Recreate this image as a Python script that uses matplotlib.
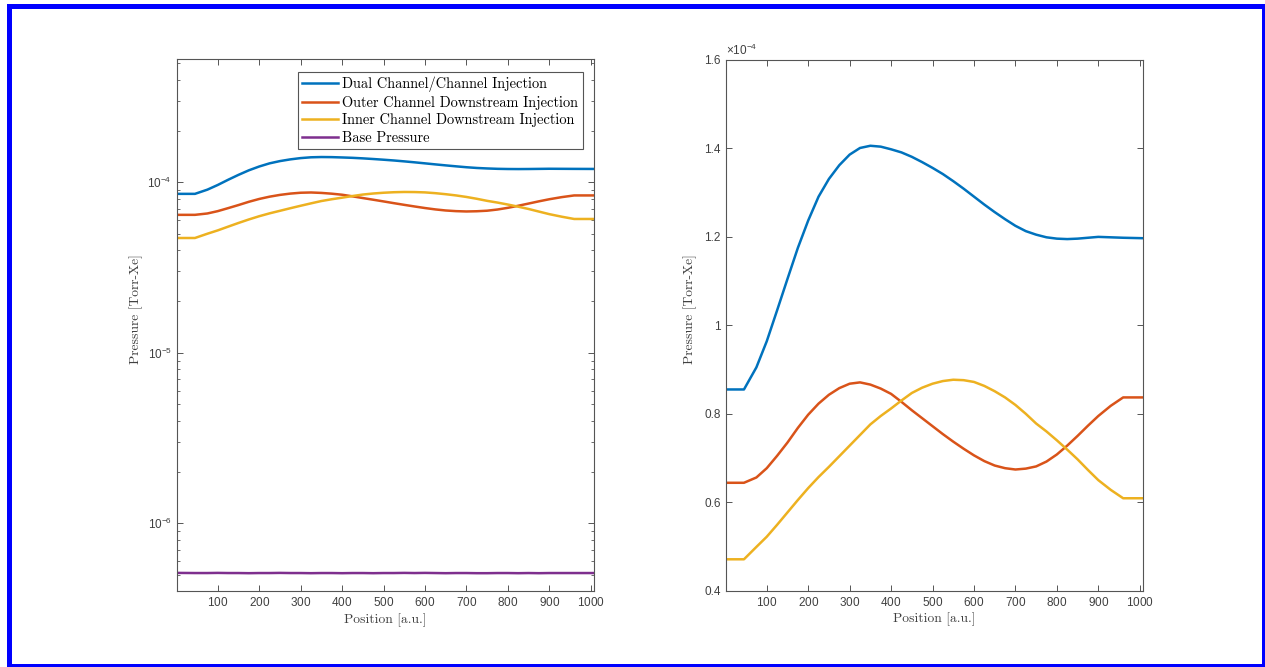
import matplotlib
matplotlib.use('Agg')
import matplotlib.pyplot as plt
from matplotlib.patches import Rectangle
from matplotlib.ticker import LogLocator, FixedLocator, FuncFormatter, NullFormatter
import numpy as np

# Position along the channel [a.u.]
positions = [1, 45, 75, 100, 125, 150, 175, 200, 225, 250, 275, 300, 325, 350, 375,
             400, 425, 450, 475, 500, 525, 550, 575, 600, 625, 650, 675, 700, 725,
             750, 775, 800, 825, 850, 875, 900, 930, 960, 1007]

# Pressure in units of 1e-4 Torr-Xe
dual_channel = [0.855, 0.855, 0.905, 0.964, 1.034, 1.105, 1.175, 1.237, 1.291, 1.331,
                1.362, 1.386, 1.401, 1.406, 1.404, 1.398, 1.391, 1.381, 1.369, 1.356,
                1.342, 1.326, 1.309, 1.291, 1.273, 1.256, 1.240, 1.225, 1.213, 1.205,
                1.199, 1.196, 1.195, 1.196, 1.198, 1.200, 1.199, 1.198, 1.197]
outer_downstream = [0.644, 0.644, 0.656, 0.677, 0.705, 0.735, 0.768, 0.798, 0.823, 0.843,
                    0.858, 0.868, 0.871, 0.866, 0.857, 0.845, 0.827, 0.808, 0.790, 0.772,
                    0.754, 0.737, 0.721, 0.706, 0.693, 0.683, 0.677, 0.674, 0.676, 0.681,
                    0.692, 0.708, 0.728, 0.750, 0.773, 0.795, 0.818, 0.837, 0.837]
inner_downstream = [0.471, 0.471, 0.499, 0.522, 0.549, 0.577, 0.605, 0.632, 0.657, 0.680,
                    0.704, 0.728, 0.752, 0.776, 0.795, 0.812, 0.830, 0.847, 0.859, 0.868,
                    0.874, 0.877, 0.876, 0.872, 0.863, 0.851, 0.837, 0.820, 0.800, 0.778,
                    0.760, 0.740, 0.719, 0.697, 0.673, 0.650, 0.628, 0.609, 0.609]
# Base pressure in units of 1e-7 Torr-Xe
base_pressure = [5.11, 5.10, 5.10, 5.11, 5.10, 5.10, 5.09, 5.10, 5.10, 5.11,
                 5.10, 5.10, 5.09, 5.10, 5.10, 5.09, 5.10, 5.10, 5.09, 5.10,
                 5.10, 5.11, 5.10, 5.11, 5.10, 5.09, 5.10, 5.10, 5.09, 5.09,
                 5.10, 5.10, 5.09, 5.10, 5.09, 5.10, 5.10, 5.10, 5.10]

labels = ['Dual Channel/Channel Injection', 'Outer Channel Downstream Injection',
          'Inner Channel Downstream Injection', 'Base Pressure']
colors = ['#0072BD', '#D95319', '#EDB120', '#7E2F8E']

x = np.array(positions)
series = [np.array(dual_channel) * 1e-4, np.array(outer_downstream) * 1e-4,
          np.array(inner_downstream) * 1e-4, np.array(base_pressure) * 1e-7]

tick_color = '#404040'
serif = 'cmr10'
plt.rcParams['font.family'] = ['Liberation Sans', 'DejaVu Sans']
plt.rcParams['mathtext.fontset'] = 'custom'
plt.rcParams['mathtext.rm'] = 'Liberation Sans'
plt.rcParams['axes.formatter.use_mathtext'] = True

fig = plt.figure(figsize=(12.65, 6.67), dpi=100)
ax1 = fig.add_axes([0.1397, 0.1139, 0.3299, 0.7969])
ax2 = fig.add_axes([0.5737, 0.1144, 0.3299, 0.7957])


def style_axes(ax):
    for sp in ax.spines.values():
        sp.set_color('#555555')
        sp.set_linewidth(0.8)
    ax.tick_params(which='both', direction='in', top=True, right=True,
                   colors='#555555', labelcolor=tick_color, labelsize=8.5)
    ax.tick_params(which='major', length=4.5, width=0.7)
    ax.tick_params(which='minor', length=2.5, width=0.6)
    ax.set_xlim(1, 1008)
    ax.xaxis.set_major_locator(FixedLocator(np.arange(100, 1001, 100)))
    ax.set_xlabel('Position [a.u.]', fontfamily=serif, fontsize=9.7,
                  color=tick_color, labelpad=3)


# Left panel: all pressures on a log scale
for y, lab, col in zip(series, labels, colors):
    ax1.plot(x, y, color=col, linewidth=1.8, label=lab)
ax1.set_yscale('log')
ax1.set_ylim(4.0e-7, 5.25e-4)
ax1.yaxis.set_major_locator(LogLocator(base=10, numticks=10))
ax1.yaxis.set_minor_locator(LogLocator(base=10, subs=np.arange(2, 10), numticks=10))
ax1.yaxis.set_minor_formatter(NullFormatter())
style_axes(ax1)
ax1.set_ylabel('Pressure [Torr-Xe]', fontfamily=serif, fontsize=9.7, color=tick_color)
ax1.yaxis.set_label_coords(-0.08, 0.53)
leg = ax1.legend(loc='upper right', bbox_to_anchor=(0.973, 0.9765), borderaxespad=0,
                 prop={'family': serif, 'size': 10.4}, handlelength=2.5,
                 handletextpad=0.3, labelspacing=0.26, borderpad=0.3,
                 fancybox=False, framealpha=1)
leg.get_frame().set_edgecolor('#555555')
leg.get_frame().set_linewidth(0.8)

# Right panel: the three injection cases on a linear scale
for y, col in zip(series[:3], colors[:3]):
    ax2.plot(x, y, color=col, linewidth=1.8)
ax2.set_ylim(0.4e-4, 1.6e-4)
ax2.yaxis.set_major_locator(FixedLocator(np.arange(0.4, 1.61, 0.2) * 1e-4))
ax2.yaxis.set_major_formatter(FuncFormatter(lambda v, _: f'{v / 1e-4:g}'))
style_axes(ax2)
ax2.text(0.0, 1.003, r'$\times10^{-4}$', transform=ax2.transAxes, ha='left',
         va='bottom', fontsize=8.5, color=tick_color)
ax2.set_ylabel('Pressure [Torr-Xe]', fontfamily=serif, fontsize=9.7, color=tick_color)
ax2.yaxis.set_label_coords(-0.069, 0.53)

# Blue frame around the whole figure
fig.patches.append(Rectangle((8.5 / 1265, 1.5 / 667), (1263.5 - 8.5) / 1265,
                             (661.2 - 1.5) / 667, transform=fig.transFigure,
                             fill=False, edgecolor='#0000FF', linewidth=3.6))

fig.savefig('out.png', dpi=100)
